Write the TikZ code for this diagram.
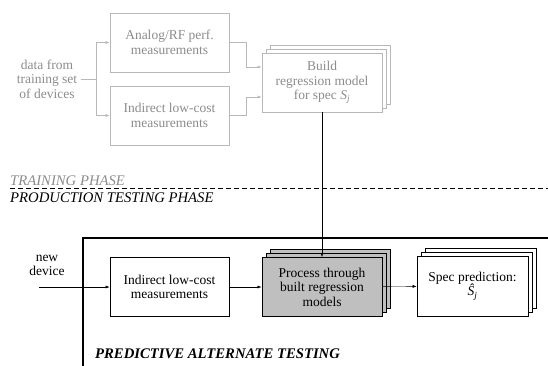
\documentclass[tikz,border=0pt]{standalone}
\usepackage{fontspec}
\setmainfont{Liberation Serif}
\usetikzlibrary{arrows.meta,shadows}
\definecolor{lgray}{gray}{0.72}
\definecolor{tgray}{gray}{0.55}
\begin{document}
\begin{tikzpicture}[x=1pt, y=-1pt, >={Latex[length=4pt,width=3pt]},
  font=\fontsize{13.5}{14.5}\selectfont,
  box/.style = {draw, thick, fill=white, align=center, inner sep=0pt, minimum width=119pt, minimum height=59pt},
  tbox/.style = {box, draw=lgray, text=tgray, semithick},
  stack/.style = {double copy shadow={shadow xshift=4pt, shadow yshift=4pt}},
  tline/.style = {lgray, semithick},
  phase/.style = {anchor=base west, inner sep=0pt, font=\fontsize{14.7}{16}\selectfont\itshape}]
\useasboundingbox (0,0) rectangle (548,365);
% training phase
\node[align=center, text=tgray] (data) at (47,79) {data from\\training set\\of devices};
\node[tbox] (an) at (169.5,42.5) {Analog/RF perf.\\measurements};
\node[tbox] (ind1) at (169.5,115.5) {Indirect low-cost\\measurements};
\node[tbox, stack, minimum width=120pt] (build) at (322,82.5) {Build\\regression model\\for spec \textit{S\textsubscript{j}}};
\coordinate (br) at (96,79);
\draw[tline] (data) -- (br);
\draw[tline, ->] (br) |- (an.west);
\draw[tline, ->] (br) |- (ind1.west);
\draw[tline, ->] (an.east) -- ++(17,0) |- ([yshift=15.5pt]build.west);
\draw[tline, ->] (ind1.east) -- ++(17,0) |- ([yshift=-14.5pt]build.west);
% phases
\coordinate (d1) at (10,188);
\coordinate (d2) at (548,188);
\draw[dash pattern=on 5pt off 3pt] (d1) -- (d2);
\node[phase, text=tgray] (tp) at (10,185) {TRAINING PHASE};
\node[phase] (pp) at (10,202) {PRODUCTION TESTING PHASE};
% production testing
\draw[line width=2.2pt] (83,366) -- (83,238) -- (549,238);
\node[align=center] (nd) at (47,265.5) {new\\device};
\coordinate (in) at (39,287);
\node[box] (ind2) at (169.5,287) {Indirect low-cost\\measurements};
\node[box, stack, fill=gray!50, minimum width=120pt, line width=1pt] (proc) at (322,287) {Process through\\built regression\\models};
\node[box, stack, minimum width=111pt, minimum height=60pt] (spec) at (472.5,286) {Spec prediction:\\\textit{\^S\textsubscript{j}}};
\draw[->] (in) -- (ind2);
\draw[->] (ind2) -- (proc);
\draw[->] (proc) -- (spec);
\draw[->] (build) -- (proc);
\node[phase, font=\fontsize{14.7}{16}\selectfont\bfseries\itshape] (pat) at (95,358) {PREDICTIVE ALTERNATE TESTING};
\end{tikzpicture}
\end{document}
